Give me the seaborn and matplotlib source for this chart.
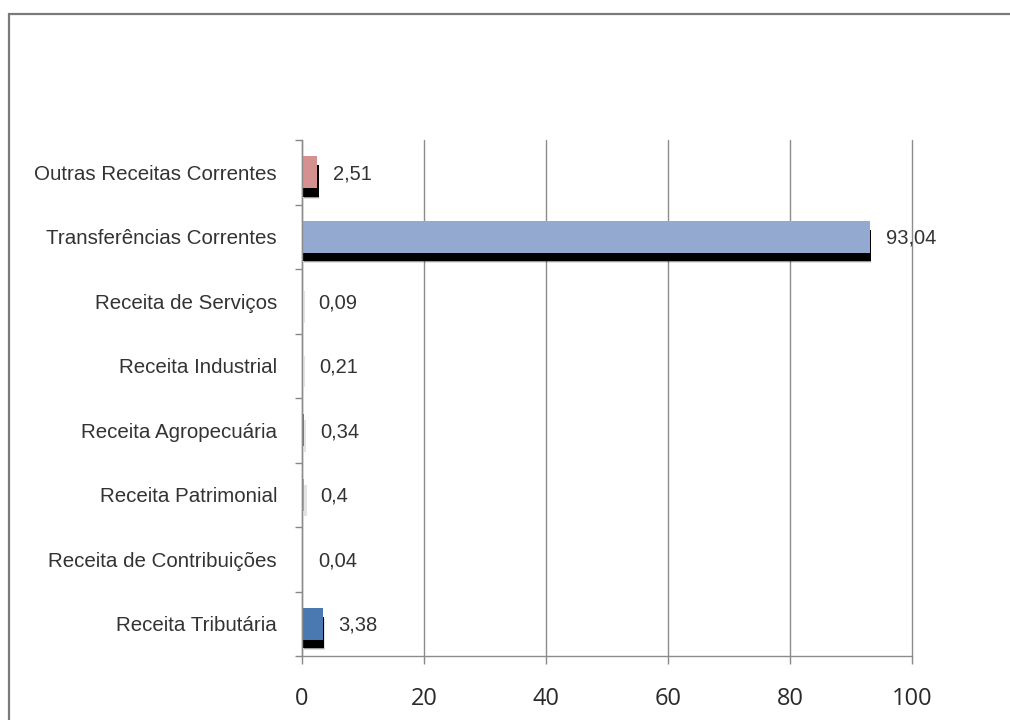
import matplotlib
matplotlib.use("Agg")
import matplotlib.pyplot as plt
import matplotlib.patheffects as pe
from matplotlib.patches import Rectangle
import seaborn as sns
import pandas as pd

categories = ["Outras Receitas Correntes", "Transferências Correntes", "Receita de Serviços",
              "Receita Industrial", "Receita Agropecuária", "Receita Patrimonial",
              "Receita de Contribuições", "Receita Tributária"]
values = [2.51, 93.04, 0.09, 0.21, 0.34, 0.4, 0.04, 3.38]
value_labels = ["2,51", "93,04", "0,09", "0,21", "0,34", "0,4", "0,04", "3,38"]
colors = ["#D4918F", "#94A9D0", "#F79646", "#4BACC6", "#8064A2", "#9BBB59", "#C0504D", "#4A78B0"]
xticks = [0, 20, 40, 60, 80, 100]

df = pd.DataFrame({"cat": categories, "val": values})

sns.set_style("white")
plt.rcParams["font.family"] = ["Liberation Sans", "DejaVu Sans"]

fig = plt.figure(figsize=(10.1, 7.2), dpi=100)
ax = fig.add_axes([302/1010, 1-656/720, 610/1010, 516/720])

sns.barplot(data=df, y="cat", x="val", hue="cat", palette=colors, order=categories,
            hue_order=categories, orient="h", width=0.49, legend=False, ax=ax,
            saturation=1, linewidth=0)

for p in ax.patches:
    if p.get_width() > 1:
        p.set_path_effects([
            pe.SimplePatchShadow(offset=(1.4, -7.8), shadow_rgbFace="black", alpha=0.12),
            pe.SimplePatchShadow(offset=(1.2, -7.1), shadow_rgbFace="black", alpha=0.3),
            pe.SimplePatchShadow(offset=(1.0, -6.4), shadow_rgbFace="black", alpha=1.0),
            pe.Normal()])
    else:
        p.set_path_effects([
            pe.SimplePatchShadow(offset=(1.5, -4), shadow_rgbFace="#bbbbbb", alpha=0.4),
            pe.Normal()])

for i, (v, lab) in enumerate(zip(values, value_labels)):
    ax.annotate(lab, xy=(v, i), xytext=(11.5, -1.2), textcoords="offset points",
                va="center", ha="left", fontsize=14.5, color="#333333")

ax.set_xlim(0, 100)
ax.set_ylim(7.5, -0.5)
ax.set_xticks(xticks)
ax.set_xticklabels([str(t) for t in xticks], fontfamily="Open Sans", fontsize=17, color="#2a2a2a")
ax.set_yticks(range(len(categories)))
ax.set_yticklabels(categories, fontsize=14.8, color="#333333")
ax.set_yticks([i - 0.5 for i in range(len(categories) + 1)], minor=True)
ax.tick_params(axis="y", which="major", left=True, length=0, pad=18)
ax.tick_params(axis="y", which="minor", left=True, length=5, width=1, color="#888888", direction="out")
ax.tick_params(axis="x", which="major", bottom=True, length=6, width=1, color="#888888",
               direction="out", pad=16)
ax.set_xlabel("")
ax.set_ylabel("")
ax.grid(axis="x", color="#8c8c8c", linewidth=1)
for gl in ax.get_xgridlines():
    gl.set_clip_on(False)
ax.set_axisbelow(True)
for s in ["top", "right"]:
    ax.spines[s].set_visible(False)
for s in ["left", "bottom"]:
    ax.spines[s].set_color("#8c8c8c")
    ax.spines[s].set_linewidth(1)

fig.patches.append(Rectangle((9/1010, -0.1), 1.2, 1 - 14/720 + 0.1, transform=fig.transFigure,
                             fill=False, edgecolor="#7a7a7a", linewidth=1.6))

fig.savefig("out.png", dpi=100, facecolor="white")
